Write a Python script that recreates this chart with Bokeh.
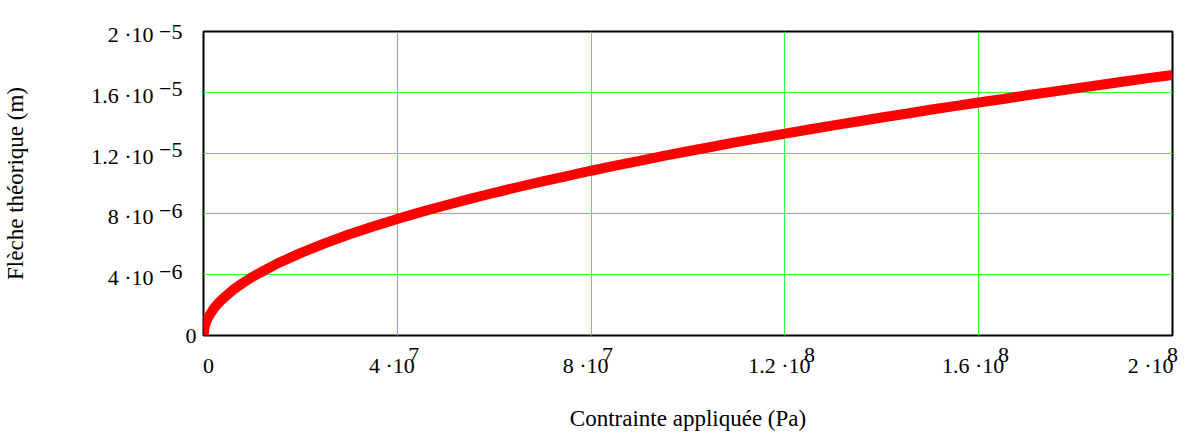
from bokeh.plotting import figure
from bokeh.models import FixedTicker, CustomJSTickFormatter, Range1d, LinearAxis
from bokeh.embed import file_html
from bokeh.resources import INLINE

# Applied stress (Pa) and theoretical deflection (m)
contrainte_pa = [0, 0.25e6, 0.5e6, 1e6, 2e6, 3e6, 4e6, 6e6, 8e6, 1e7,
                 1.5e7, 2e7, 2.5e7, 3e7, 3.5e7, 4e7, 4.5e7, 5e7, 5.5e7, 6e7,
                 6.5e7, 7e7, 7.5e7, 8e7, 8.5e7, 9e7, 9.5e7, 1e8, 1.05e8, 1.1e8,
                 1.15e8, 1.2e8, 1.25e8, 1.3e8, 1.35e8, 1.4e8, 1.45e8, 1.5e8, 1.55e8, 1.6e8,
                 1.65e8, 1.7e8, 1.75e8, 1.8e8, 1.85e8, 1.9e8, 1.95e8, 2e8]
fleche_um = [0, 0.6, 0.86, 1.21, 1.72, 2.12, 2.42, 2.98, 3.43, 3.84,
             4.7, 5.42, 6.06, 6.64, 7.17, 7.67, 8.13, 8.57, 8.99, 9.39,
             9.77, 10.14, 10.49, 10.84, 11.17, 11.49, 11.82, 12.12, 12.42, 12.72,
             13.0, 13.28, 13.55, 13.82, 14.08, 14.34, 14.59, 14.85, 15.09, 15.33,
             15.56, 15.81, 16.03, 16.26, 16.48, 16.71, 16.93, 17.14]
fleche_m = [v * 1e-6 for v in fleche_um]

x_ticks = [0, 4e7, 8e7, 1.2e8, 1.6e8, 2e8]
x_mant = ["0", "4 ·10", "8 ·10", "1.2 ·10", "1.6 ·10", "2 ·10"]
x_expo = ["", "7", "7", "8", "8", "8"]
y_ticks = [0, 4e-6, 8e-6, 1.2e-5, 1.6e-5, 2e-5]
y_mant = ["0", "4 ·10", "8 ·10", "1.2 ·10", "1.6 ·10", "2 ·10"]
y_expo = ["", "−6", "−6", "−5", "−5", "−5"]

X_MAX, Y_MAX = 2e8, 2e-5
FONT = "Liberation Serif"
FS = 22
CHAR_W = {".": 0.25, " ": 0.25, "·": 0.25, "−": 0.564}
FRAME_W, FRAME_H = 971, 305
PX_X = X_MAX / FRAME_W     # data units per screen pixel
PX_Y = Y_MAX / FRAME_H


def text_w(s):
    return sum(CHAR_W.get(c, 0.5) for c in s) * FS


def clamp_x(v):
    return min(max(v, 0), X_MAX)


def clamp_y(v):
    return min(max(v, 0), Y_MAX)


p = figure(width=1202, height=433, output_backend="svg", toolbar_location=None,
           x_range=Range1d(0, X_MAX), y_range=Range1d(0, Y_MAX),
           min_border_left=201, min_border_right=30, min_border_top=31, min_border_bottom=97)

p.line(contrainte_pa, fleche_m, line_color="#ff0000", line_width=10)

JS = """
let best = 0, bd = Infinity;
for (let i = 0; i < pos.length; i++) {
  const d = Math.abs(pos[i] - tick);
  if (d < bd) { bd = d; best = i; }
}
return labs[best];
"""


def style(ax, ticks, labels, standoff, align, baseline):
    ax.ticker = FixedTicker(ticks=ticks)
    ax.formatter = CustomJSTickFormatter(args=dict(pos=ticks, labs=labels), code=JS)
    ax.axis_line_color = None
    ax.major_tick_line_color = None
    ax.minor_tick_line_color = None
    ax.major_tick_out = 0
    ax.major_tick_in = 0
    ax.minor_tick_out = 0
    ax.minor_tick_in = 0
    ax.major_label_standoff = standoff
    ax.major_label_text_font = FONT
    ax.major_label_text_font_size = f"{FS}px"
    ax.major_label_text_color = "black"
    ax.major_label_text_align = align
    ax.major_label_text_baseline = baseline
    ax.axis_label_text_font = FONT
    ax.axis_label_text_font_size = "23px"
    ax.axis_label_text_font_style = "normal"
    ax.axis_label_text_color = "black"


# ---- x axis: exponents (closest to the frame), then mantissas
xe_t, xe_l, xm_t = [], [], []
for t, m, e in zip(x_ticks, x_mant, x_expo):
    wm, we = text_w(m), text_w(e)
    if not e:
        xm_t.append(clamp_x(t + 5 * PX_X))
        continue
    e_pos = clamp_x(t + (wm - we) / 2 * PX_X)   # exponent starts after the mantissa
    xe_t.append(e_pos)
    xe_l.append(e)
    xm_t.append(e_pos - wm / 2 * PX_X)          # mantissa centre
style(p.xaxis[0], xe_t, xe_l, 12, "left", "top")
ax_xm = LinearAxis()
style(ax_xm, xm_t, x_mant, -12, "center", "top")
ax_xm.axis_label = "Contrainte appliquée (Pa)"
ax_xm.axis_label_standoff = 25
p.add_layout(ax_xm, "below")

# ---- y axis: "0" (closest), then exponents, then mantissas
style(p.yaxis[0], [0], ["0"], 7, "right", "middle")
ye_t = [clamp_y(t + 3 * PX_Y) for t, e in zip(y_ticks, y_expo) if e]
ye_l = [e for e in y_expo if e]
ax_ye = LinearAxis()
style(ax_ye, ye_t, ye_l, 0, "right", "alphabetic")
p.add_layout(ax_ye, "left")
ym_t = [clamp_y(t - 3 * PX_Y) for t, e in zip(y_ticks, y_expo) if e]
ym_l = [m for m, e in zip(y_mant, y_expo) if e]
ax_ym = LinearAxis()
style(ax_ym, ym_t, ym_l, 3, "right", "middle")
ax_ym.axis_label = "Flèche théorique (m)"
ax_ym.axis_label_standoff = 60
p.add_layout(ax_ym, "left")

p.xgrid.ticker = FixedTicker(ticks=x_ticks)
p.ygrid.ticker = FixedTicker(ticks=y_ticks)
p.xgrid.grid_line_color = "#33ff33"
p.ygrid.grid_line_color = "#33ff33"
p.xgrid.grid_line_width = 1
p.ygrid.grid_line_width = 1
p.outline_line_color = "black"
p.outline_line_width = 2
p.outline_line_alpha = 1.0
p.background_fill_color = "white"
p.border_fill_color = "white"

open("out.html", "w").write(file_html(p, INLINE))
